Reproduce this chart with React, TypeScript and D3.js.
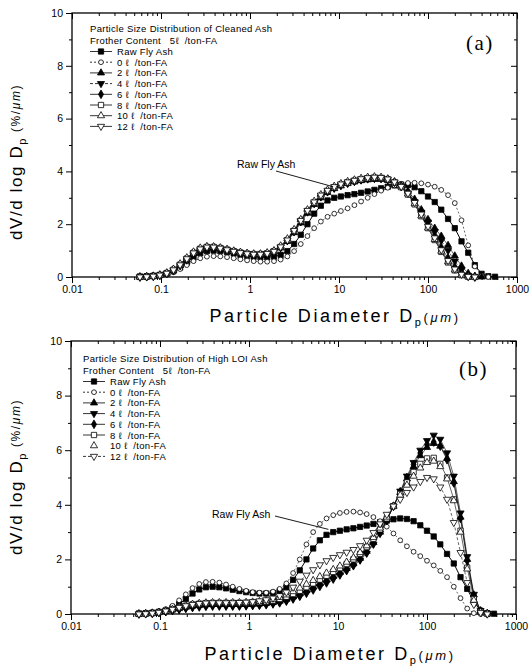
import React, { useEffect, useRef } from 'react'
import * as d3 from 'd3'

// particle size classes (um)
const diameters = [
  0.058, 0.069, 0.082, 0.097, 0.116, 0.138, 0.164, 0.195, 0.232, 0.276,
  0.328, 0.39, 0.464, 0.552, 0.656, 0.78, 0.928, 1.1, 1.31, 1.56,
  1.86, 2.21, 2.63, 3.13, 3.72, 4.42, 5.26, 6.25, 7.43, 8.84,
  10.5, 12.5, 14.9, 17.7, 21.0, 25.0, 29.7, 35.3, 42.0, 50.0,
  59.5, 70.7, 84.1, 100, 119, 141, 168, 200, 238, 283,
  336, 400, 476, 566,
]

// same raw fly ash in both panels
const rawFlyAsh = [
  0.02, 0.03, 0.05, 0.08, 0.13, 0.22, 0.36, 0.55, 0.75, 0.9,
  0.98, 1.0, 0.98, 0.94, 0.89, 0.84, 0.8, 0.77, 0.75, 0.75,
  0.77, 0.84, 0.98, 1.25, 1.6, 2.0, 2.4, 2.7, 2.9, 3.0,
  3.05, 3.1, 3.14, 3.19, 3.24, 3.3, 3.36, 3.42, 3.47, 3.5,
  3.48, 3.4, 3.25, 3.05, 2.84, 2.55, 2.2, 1.85, 1.35, 0.92,
  0.45, 0.12, 0.03, 0.01,
]

// (a) cleaned ash
const cleaned0 = [
  0, 0.01, 0.02, 0.05, 0.1, 0.18, 0.3, 0.45, 0.6, 0.71,
  0.77, 0.79, 0.78, 0.75, 0.71, 0.67, 0.63, 0.6, 0.58, 0.58,
  0.6, 0.66, 0.78, 0.98, 1.25, 1.55, 1.85, 2.1, 2.28, 2.4,
  2.5, 2.6, 2.72, 2.86, 3.0, 3.14, 3.27, 3.38, 3.47, 3.53,
  3.56, 3.57, 3.55, 3.5, 3.42, 3.3, 3.1, 2.8, 2.15, 1.2,
  0.4, 0.06, 0, null,
]
const cleaned2 = [
  0, 0.01, 0.03, 0.07, 0.14, 0.26, 0.44, 0.66, 0.88, 1.03,
  1.1, 1.11, 1.08, 1.02, 0.96, 0.91, 0.87, 0.85, 0.85, 0.88,
  0.95, 1.1, 1.35, 1.68, 2.05, 2.42, 2.75, 3.0, 3.2, 3.35,
  3.45, 3.54, 3.6, 3.65, 3.68, 3.7, 3.7, 3.66, 3.58, 3.45,
  3.25, 2.95, 2.55, 2.18, 1.85, 1.55, 1.2, 0.8, 0.42, 0.14,
  0.03, 0, null, null,
]
const cleaned4 = [
  0, 0.01, 0.03, 0.06, 0.13, 0.24, 0.42, 0.64, 0.86, 1.01,
  1.08, 1.1, 1.07, 1.02, 0.97, 0.92, 0.88, 0.86, 0.86, 0.89,
  0.97, 1.12, 1.38, 1.72, 2.1, 2.46, 2.78, 3.03, 3.22, 3.36,
  3.46, 3.55, 3.62, 3.68, 3.72, 3.74, 3.73, 3.68, 3.58, 3.42,
  3.18, 2.85, 2.45, 2.08, 1.72, 1.38, 1.0, 0.6, 0.27, 0.06,
  0, null, null, null,
]
const cleaned6 = [
  0, 0.01, 0.03, 0.07, 0.14, 0.27, 0.46, 0.68, 0.9, 1.05,
  1.12, 1.12, 1.08, 1.02, 0.96, 0.91, 0.87, 0.85, 0.85, 0.88,
  0.96, 1.12, 1.38, 1.72, 2.1, 2.48, 2.8, 3.05, 3.24, 3.38,
  3.48, 3.56, 3.63, 3.68, 3.72, 3.74, 3.74, 3.7, 3.6, 3.44,
  3.2, 2.85, 2.42, 1.98, 1.55, 1.12, 0.72, 0.38, 0.14, 0.03,
  0, null, null, null,
]
const cleaned8 = [
  0, 0.01, 0.03, 0.07, 0.15, 0.28, 0.47, 0.7, 0.92, 1.07,
  1.14, 1.14, 1.1, 1.04, 0.98, 0.93, 0.89, 0.87, 0.87, 0.9,
  0.98, 1.14, 1.4, 1.75, 2.13, 2.5, 2.82, 3.07, 3.26, 3.4,
  3.5, 3.58, 3.65, 3.7, 3.74, 3.76, 3.75, 3.7, 3.58, 3.4,
  3.12, 2.75, 2.3, 1.85, 1.4, 0.95, 0.55, 0.25, 0.07, 0.01,
  0, null, null, null,
]
const cleaned10 = [
  0, 0.01, 0.03, 0.08, 0.16, 0.3, 0.5, 0.73, 0.95, 1.1,
  1.16, 1.15, 1.11, 1.05, 0.99, 0.94, 0.9, 0.88, 0.88, 0.92,
  1.0, 1.18, 1.45, 1.8, 2.18, 2.55, 2.87, 3.12, 3.3, 3.44,
  3.54, 3.62, 3.68, 3.74, 3.78, 3.8, 3.78, 3.72, 3.6, 3.42,
  3.15, 2.78, 2.32, 1.86, 1.42, 0.98, 0.58, 0.27, 0.08, 0.01,
  0, null, null, null,
]
const cleaned12 = [
  0, 0.01, 0.03, 0.07, 0.14, 0.27, 0.46, 0.69, 0.91, 1.06,
  1.13, 1.13, 1.09, 1.03, 0.97, 0.92, 0.88, 0.86, 0.86, 0.89,
  0.97, 1.14, 1.4, 1.76, 2.14, 2.52, 2.84, 3.1, 3.28, 3.42,
  3.52, 3.6, 3.66, 3.72, 3.76, 3.78, 3.77, 3.71, 3.6, 3.43,
  3.17, 2.82, 2.38, 1.92, 1.48, 1.03, 0.62, 0.3, 0.1, 0.02,
  0, null, null, null,
]

// (b) high LOI ash
const highLoi0 = [
  0, 0.02, 0.05, 0.1, 0.18, 0.3, 0.5, 0.72, 0.95, 1.1,
  1.17, 1.18, 1.15, 1.08, 1.0, 0.92, 0.85, 0.8, 0.78, 0.78,
  0.82, 0.92, 1.12, 1.5, 2.0, 2.55, 3.0, 3.3, 3.5, 3.62,
  3.7, 3.74, 3.75, 3.72, 3.66, 3.55, 3.4, 3.2, 2.95, 2.7,
  2.48, 2.28, 2.12, 1.95, 1.78, 1.58, 1.35, 1.0, 0.58, 0.2,
  0.03, 0, null, null,
]
const highLoi2 = [
  0, 0.01, 0.03, 0.06, 0.1, 0.15, 0.2, 0.25, 0.29, 0.32,
  0.34, 0.35, 0.35, 0.35, 0.35, 0.35, 0.35, 0.36, 0.37, 0.39,
  0.42, 0.47, 0.54, 0.63, 0.74, 0.86, 0.99, 1.12, 1.25, 1.38,
  1.52, 1.67, 1.84, 2.04, 2.3, 2.62, 3.0, 3.45, 3.95, 4.45,
  4.95, 5.4, 5.8, 6.1, 6.25, 6.15, 5.7, 4.85, 3.55, 2.0,
  0.7, 0.12, 0.02, null,
]
const highLoi4 = [
  0, 0.01, 0.02, 0.05, 0.08, 0.12, 0.16, 0.2, 0.23, 0.25,
  0.27, 0.28, 0.28, 0.28, 0.28, 0.28, 0.29, 0.3, 0.31, 0.33,
  0.36, 0.4, 0.46, 0.54, 0.64, 0.75, 0.87, 1.0, 1.13, 1.27,
  1.42, 1.58, 1.76, 1.97, 2.22, 2.55, 2.95, 3.42, 3.95, 4.5,
  5.05, 5.55, 6.0, 6.35, 6.55, 6.4, 5.9, 5.05, 3.7, 2.1,
  0.72, 0.12, 0.02, null,
]
const highLoi6 = [
  0, 0.01, 0.03, 0.05, 0.09, 0.13, 0.18, 0.22, 0.26, 0.29,
  0.31, 0.32, 0.32, 0.32, 0.32, 0.32, 0.33, 0.34, 0.35, 0.37,
  0.4, 0.44, 0.5, 0.58, 0.68, 0.8, 0.93, 1.06, 1.19, 1.33,
  1.47, 1.62, 1.8, 2.0, 2.26, 2.58, 2.97, 3.43, 3.95, 4.48,
  5.0, 5.48, 5.9, 6.2, 6.3, 6.15, 5.65, 4.8, 3.5, 1.95,
  0.65, 0.1, 0.01, null,
]
const highLoi8 = [
  0, 0.01, 0.03, 0.06, 0.11, 0.17, 0.24, 0.3, 0.35, 0.38,
  0.4, 0.41, 0.41, 0.41, 0.41, 0.41, 0.41, 0.42, 0.43, 0.45,
  0.49, 0.55, 0.63, 0.73, 0.85, 0.98, 1.12, 1.26, 1.4, 1.54,
  1.68, 1.83, 2.0, 2.2, 2.45, 2.75, 3.1, 3.5, 3.95, 4.4,
  4.82, 5.2, 5.5, 5.7, 5.72, 5.5, 5.0, 4.2, 3.05, 1.7,
  0.55, 0.08, 0.01, null,
]
const highLoi10 = [
  0, 0.01, 0.03, 0.06, 0.11, 0.17, 0.24, 0.31, 0.36, 0.39,
  0.41, 0.42, 0.42, 0.42, 0.42, 0.42, 0.43, 0.44, 0.46, 0.49,
  0.54, 0.61, 0.7, 0.82, 0.95, 1.09, 1.23, 1.37, 1.5, 1.63,
  1.76, 1.9, 2.06, 2.25, 2.5, 2.8, 3.15, 3.55, 3.95, 4.35,
  4.72, 5.05, 5.35, 5.55, 5.6, 5.4, 4.95, 4.15, 3.0, 1.65,
  0.5, 0.07, 0.01, null,
]
const highLoi12 = [
  0, 0.01, 0.03, 0.06, 0.11, 0.17, 0.24, 0.3, 0.35, 0.38,
  0.4, 0.41, 0.41, 0.41, 0.41, 0.42, 0.43, 0.45, 0.48, 0.52,
  0.58, 0.67, 0.8, 0.98, 1.2, 1.42, 1.62, 1.8, 1.95, 2.07,
  2.17, 2.26, 2.36, 2.5, 2.7, 2.98, 3.3, 3.65, 3.95, 4.2,
  4.45, 4.65, 4.85, 5.0, 4.95, 4.65, 4.2, 3.35, 2.25, 1.15,
  0.35, 0.05, 0, null,
]

const xTicks = [0.01, 0.1, 1, 10, 100, 1000]
const xTickLabels = ['0.01', '0.1', '1', '10', '100', '1000']
const yTicks = [0, 2, 4, 6, 8, 10]
const yMinorTicks = [1, 3, 5, 7, 9]
const legendNames = ['Raw Fly Ash', '0', '2', '4', '6', '8', '10', '12']
const symbols = ['square', 'circle', 'up', 'down', 'diamond', 'openSquare', 'openUp', 'openDown']

const FONT = '"Liberation Sans", Arial, sans-serif'

const panelA = {
  left: 72, right: 517, top: 13, bottom: 277,
  title: 'Particle Size Distribution of Cleaned Ash',
  tag: '(a)', tagX: 466, tagY: 50,
  legendX: 90, legendY: 32,
  yLabelX: 22, yLabelY: 162, xLabelX: 335, xLabelY: 322,
  note: [237, 168], noteTip: [8.6, 3.42], noteFrom: [276, 171],
  series: [rawFlyAsh, cleaned0, cleaned2, cleaned4, cleaned6, cleaned8, cleaned10, cleaned12],
  dashes: [null, '2,2', null, '3,2', null, null, null, null],
  noLine: [false, false, false, false, false, false, false, false],
}
const panelB = {
  left: 71, right: 516, top: 341, bottom: 614,
  title: 'Particle Size Distribution of High LOI Ash',
  tag: '(b)', tagX: 459, tagY: 376,
  legendX: 83, legendY: 362,
  yLabelX: 22, yLabelY: 477, xLabelX: 330, xLabelY: 660,
  note: [212, 518], noteTip: [7.8, 3.1], noteFrom: [275, 516],
  series: [rawFlyAsh, highLoi0, highLoi2, highLoi4, highLoi6, highLoi8, highLoi10, highLoi12],
  dashes: [null, '2,2', null, null, null, null, null, '3,2'],
  noLine: [false, false, false, false, false, false, true, false],
}

function marker(kind) {
  if (kind === 'square' || kind === 'openSquare') return d3.symbol(d3.symbolSquare, 28)()
  if (kind === 'circle') return d3.symbol(d3.symbolCircle, 18)()
  if (kind === 'diamond') return d3.symbol(d3.symbolDiamond, 22)()
  return d3.symbol(d3.symbolTriangle, 22)()
}

function drawMarker(g, kind, px, py) {
  const open = kind === 'circle' || kind.startsWith('open')
  const rot = kind === 'down' || kind === 'openDown' ? ' rotate(180)' : ''
  g.append('path')
    .attr('d', marker(kind))
    .attr('transform', `translate(${px},${py})${rot}`)
    .attr('fill', open ? '#fff' : '#000')
    .attr('stroke', '#000')
    .attr('stroke-width', 0.8)
}

function drawPanel(svg, p) {
  const x = d3.scaleLog().domain([0.01, 1000]).range([p.left, p.right])
  const y = d3.scaleLinear().domain([0, 10]).range([p.bottom, p.top])
  const g = svg.append('g')

  const minor = x.ticks().filter((t) => !xTicks.includes(t))

  // axes: bottom/left out, top/right in
  const bottom = g.append('g').attr('transform', `translate(0,${p.bottom})`)
  bottom.call(d3.axisBottom(x).tickValues(minor).tickSize(3).tickSizeOuter(0).tickFormat(() => ''))
  bottom.append('g').call(d3.axisBottom(x).tickValues(xTicks).tickSize(6).tickSizeOuter(0)
    .tickFormat((d, i) => xTickLabels[i]))
  const top = g.append('g').attr('transform', `translate(0,${p.top})`)
  top.call(d3.axisTop(x).tickValues(minor).tickSize(-3).tickSizeOuter(0).tickFormat(() => ''))
  top.append('g').call(d3.axisTop(x).tickValues(xTicks).tickSize(-6).tickSizeOuter(0).tickFormat(() => ''))
  const left = g.append('g').attr('transform', `translate(${p.left},0)`)
  left.call(d3.axisLeft(y).tickValues(yMinorTicks).tickSize(3).tickSizeOuter(0).tickFormat(() => ''))
  left.append('g').call(d3.axisLeft(y).tickValues(yTicks).tickSize(6).tickSizeOuter(0).tickPadding(3))
  const right = g.append('g').attr('transform', `translate(${p.right},0)`)
  right.call(d3.axisRight(y).tickValues(yMinorTicks).tickSize(-3).tickSizeOuter(0).tickFormat(() => ''))
  right.append('g').call(d3.axisRight(y).tickValues(yTicks).tickSize(-6).tickSizeOuter(0).tickFormat(() => ''))

  g.selectAll('.domain').remove()
  g.selectAll('.tick line').attr('stroke', '#000').attr('stroke-width', 1)
  g.selectAll('.tick text')
    .attr('fill', '#000')
    .style('font-family', FONT)
    .style('font-size', '10.5px')

  g.append('rect')
    .attr('x', p.left).attr('y', p.top)
    .attr('width', p.right - p.left).attr('height', p.bottom - p.top)
    .attr('fill', 'none').attr('stroke', '#000').attr('stroke-width', 1.3)

  // series
  p.series.forEach((vals, i) => {
    const pts = diameters.map((d, k) => ({ d, v: vals[k] })).filter((o) => o.v != null)
    if (!p.noLine[i]) {
      const line = d3.line().x((o) => x(o.d)).y((o) => y(o.v))
      g.append('path')
        .attr('d', line(pts))
        .attr('fill', 'none')
        .attr('stroke', '#000')
        .attr('stroke-width', i === 0 ? 1 : 0.6)
        .attr('stroke-dasharray', p.dashes[i])
    }
  })
  p.series.forEach((vals, i) => {
    const sg = g.append('g')
    diameters.forEach((d, k) => {
      if (vals[k] == null) return
      drawMarker(sg, symbols[i], x(d), y(vals[k]))
    })
  })

  // legend
  const lg = g.append('g').style('font-family', FONT).style('font-size', '9.5px')
  lg.append('text').attr('x', p.legendX).attr('y', p.legendY).attr('letter-spacing', 0.3).text(p.title)
  lg.append('text').attr('x', p.legendX).attr('y', p.legendY + 12).style('white-space', 'pre')
    .attr('letter-spacing', 0.3).text('Frother Content   5ℓ  /ton-FA')
  legendNames.forEach((name, i) => {
    const ly = p.legendY + 23 + i * 10.7
    const cy = ly - 3.5
    if (!p.noLine[i]) {
      lg.append('line')
        .attr('x1', p.legendX).attr('x2', p.legendX + 22)
        .attr('y1', cy).attr('y2', cy)
        .attr('stroke', '#000').attr('stroke-width', 0.8)
        .attr('stroke-dasharray', p.dashes[i])
    }
    drawMarker(lg, symbols[i], p.legendX + 11, cy)
    lg.append('text').attr('x', p.legendX + 27).attr('y', ly).style('white-space', 'pre')
      .attr('letter-spacing', 0.3)
      .text(i === 0 ? name : `${name} ℓ  /ton-FA`)
  })

  // Raw Fly Ash pointer
  g.append('text').attr('x', p.note[0]).attr('y', p.note[1])
    .style('font-family', FONT).style('font-size', '10.5px').text('Raw Fly Ash')
  g.append('line')
    .attr('x1', p.noteFrom[0]).attr('y1', p.noteFrom[1])
    .attr('x2', x(p.noteTip[0])).attr('y2', y(p.noteTip[1]))
    .attr('stroke', '#000').attr('stroke-width', 0.9)

  g.append('text').attr('x', p.tagX).attr('y', p.tagY)
    .style('font-family', '"Liberation Serif", "Times New Roman", serif')
    .style('font-size', '21px').attr('letter-spacing', 1.5).text(p.tag)

  // axis titles
  const yl = g.append('text')
    .attr('transform', `translate(${p.yLabelX},${p.yLabelY}) rotate(-90)`)
    .attr('text-anchor', 'middle')
    .style('font-family', FONT).style('font-size', '17px').attr('letter-spacing', 1.6)
  yl.append('tspan').text('dV/d log D')
  yl.append('tspan').attr('font-size', 11).attr('dy', 4).text('p')
  yl.append('tspan').attr('font-size', 12).attr('dy', -6).text(' (%/')
  yl.append('tspan').attr('font-size', 12).attr('font-style', 'italic').text('μm')
  yl.append('tspan').attr('font-size', 12).text(')')

  const xl = g.append('text')
    .attr('x', p.xLabelX).attr('y', p.xLabelY)
    .attr('text-anchor', 'middle')
    .style('font-family', FONT).style('font-size', '18px').attr('letter-spacing', 2.6)
  xl.append('tspan').text('Particle Diameter D')
  xl.append('tspan').attr('font-size', 11).attr('dy', 4).text('p')
  xl.append('tspan').attr('font-size', 13).attr('dy', -4).text('(')
  xl.append('tspan').attr('font-size', 13).attr('font-style', 'italic').text('μm')
  xl.append('tspan').attr('font-size', 13).text(')')
}

export default function App() {
  const ref = useRef(null)

  useEffect(() => {
    const svg = d3.select(ref.current)
    svg.selectAll('*').remove()
    drawPanel(svg, panelA)
    drawPanel(svg, panelB)
  }, [])

  return (
    <svg
      ref={ref}
      width={529}
      height={668}
      style={{ position: 'absolute', left: 0, top: 0, background: '#fff' }}
    />
  )
}
